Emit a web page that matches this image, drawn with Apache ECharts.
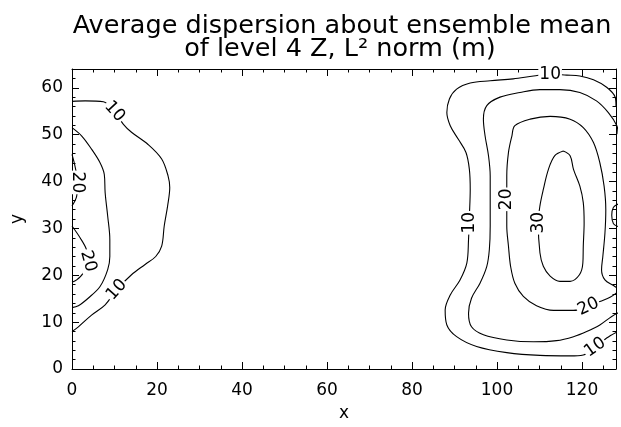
<!DOCTYPE html>
<html><head><meta charset="utf-8">
<script src="https://cdn.jsdelivr.net/npm/echarts@6/dist/echarts.min.js"></script>
<style>html,body{margin:0;padding:0;background:#fff}#c{width:621px;height:427px}</style>
</head><body><div id="c"></div>
<script>
// ---- data (data coordinates) ----
const xTickLabels = [0, 20, 40, 60, 80, 100, 120];
const yTickLabels = [0, 10, 20, 30, 40, 50, 60];
const xRange = [0, 128];
const yRange = [0, 64];

const contour10Left = [[0,57.1],[3.1,57.2],[7.4,57.0],[10.0,54.9],[12.1,52.2],[14.0,50.5],[17.9,47.9],[21.1,44.8],[22.6,41.2],[23.0,38.7],[22.5,34.8],[21.7,30.5],[21.1,26.2],[19.7,24.0],[17.2,22.3],[14.0,20.1],[10.5,16.9],[7.8,13.7],[4.6,11.5],[1.5,9.0],[0,8.0]];
const contour15Left = [[0,51.5],[2.3,49.7],[4.6,46.9],[6.6,44.0],[7.6,41.5],[7.8,37.6],[8.4,32.6],[8.9,27.6],[8.9,24.0],[8.4,21.2],[6.6,17.6],[3.8,15.1],[1.5,13.5],[0,13.1]];
const contour20LeftA = [[0,45.8],[0.7,43.3],[1.3,39.8],[1.1,36.9],[0,34.8]];
const contour20LeftB = [[0,30.5],[1.9,28.0],[3.4,25.5],[3.8,23.0],[2.7,20.5],[1.1,19.0],[0,18.5]];
const contour10Right = [[128,56],[127.8,58.0],[125.8,60.1],[122.7,61.7],[119.5,62.5],[116.4,62.7],[112.5,62.9],[108.6,62.5],[103.8,61.9],[98.4,61.5],[93.7,61.0],[90.5,59.7],[88.8,57.6],[88.2,54.7],[89.0,51.9],[90.9,49.0],[92.7,46.2],[93.5,42.6],[93.7,38.3],[93.5,32.6],[93.3,27.6],[92.9,22.6],[91.3,19.0],[89.0,15.8],[87.8,12.6],[88.2,9.4],[90.5,6.9],[95.2,4.8],[102.3,3.5],[110.1,2.9],[117.2,2.8],[120.3,3.0],[123.1,4.6],[125.8,6.6],[128,7.8]];
const contour15Right = [[128.5,50.1],[128.2,51.9],[126.2,54.7],[123.4,57.2],[119.5,59.0],[114.8,59.6],[110.1,59.6],[105.4,59.0],[100.7,58.0],[97.6,56.2],[96.8,53.3],[97.2,49.7],[98.0,45.5],[98.4,41.2],[98.4,36.2],[98.4,30.5],[98.2,25.5],[97.6,21.9],[96.0,18.3],[94.0,15.1],[93.3,11.9],[94.0,9.0],[96.8,7.3],[102.3,6.2],[108.6,5.8],[114.0,6.05],[118.0,6.9],[121.1,8.0],[124.2,9.4],[127.0,11.2],[129.2,12.3]];
const contour20Right = [[128.2,17.3],[127.4,17.8],[125.4,19.0],[124.6,21.2],[124.9,24.0],[125.4,29.0],[125.6,34.0],[125.2,39.0],[124.2,44.0],[122.7,48.3],[120.3,51.5],[117.2,53.3],[112.5,53.9],[107.8,53.3],[104.2,51.9],[103.5,49.7],[102.7,46.2],[102.3,41.2],[102.3,36.2],[102.3,30.5],[102.7,26.2],[103.2,21.9],[104.2,18.3],[106.2,15.5],[109.3,13.5],[113.3,12.5],[118.0,12.5],[121.5,13.3],[124.2,14.4],[126.6,15.3],[128.2,16.3]];
const contour30Right = [[115.6,46.5],[117.2,45.5],[118.0,42.6],[119.5,39.0],[120.3,35.5],[120.5,31.2],[120.3,26.2],[120.2,22.6],[119.4,20.1],[117.2,18.7],[114.8,18.7],[112.5,19.8],[110.9,21.9],[110.1,24.8],[109.7,31.2],[110.1,34.8],[110.9,38.3],[112.1,42.6],[113.6,45.5],[115.6,46.5]];
const contourEdge = [[128.5,35.2],[127.4,34.5],[127.0,32.8],[127.4,31.0],[128.5,30.4]];

// contour labels: [x, y, text]
const contourLabels = [[10.0,54.9,'10'],[10.5,16.9,'10'],[1.3,39.8,'20'],[3.8,23.0,'20'],[112.5,62.9,'10'],[93.5,31.2,'10'],[102.3,36.2,'20'],[109.7,31.2,'30'],[123.1,4.6,'10'],[121.5,13.3,'20']];
const labelRotations = [-48, 48, -90, -75, 0, 90, 90, 90, 35, 25];

// ---- chart ----
const FONT = 'DejaVu Sans';
const chart = echarts.init(document.getElementById('c'), null, {renderer: 'canvas'});
const contours = [contour10Left, contour15Left, contour20LeftA, contour20LeftB, contour10Right, contour15Right, contour20Right, contour30Right, contourEdge];
const lineSeries = contours.map(c => ({
  type: 'line', data: c, showSymbol: false, smooth: 0.35, clip: true,
  lineStyle: {color: '#000', width: 1.1}, silent: true, animation: false, z: 2
}));
const tickStyle = {color: '#000', width: 1};
function xAx(pos, labels) {
  return {
    type: 'value', position: pos, min: xRange[0], max: xRange[1], interval: 20,
    axisLine: {show: true, onZero: false, lineStyle: tickStyle},
    axisTick: {show: true, inside: true, length: 7, lineStyle: tickStyle},
    minorTick: {show: true, splitNumber: 4, length: 3.5, lineStyle: tickStyle},
    splitLine: {show: false}, minorSplitLine: {show: false},
    axisLabel: {show: labels, margin: 13, color: '#000', fontSize: 17, fontFamily: FONT,
      formatter: v => xTickLabels.includes(v) ? String(v) : ''},
    name: labels ? 'x' : '', nameLocation: 'middle', nameGap: 36,
    nameTextStyle: {color: '#000', fontSize: 17, fontFamily: FONT}
  };
}
function yAx(pos, labels) {
  return {
    type: 'value', position: pos, min: yRange[0], max: yRange[1], interval: 10,
    axisLine: {show: true, onZero: false, lineStyle: tickStyle},
    axisTick: {show: true, inside: true, length: 7, lineStyle: tickStyle},
    minorTick: {show: true, splitNumber: 5, length: 3.5, lineStyle: tickStyle},
    splitLine: {show: false}, minorSplitLine: {show: false},
    axisLabel: {show: labels, margin: 9, color: '#000', fontSize: 17, fontFamily: FONT,
      formatter: v => yTickLabels.includes(v) ? String(v) : ''},
    name: labels ? 'y' : '', nameLocation: 'middle', nameGap: 46, nameRotate: 90,
    nameTextStyle: {color: '#000', fontSize: 17, fontFamily: FONT}
  };
}
const option = {
  animation: false,
  backgroundColor: '#fff',
  title: [
    {text: 'Average dispersion about ensemble mean', left: 337, top: 8, textAlign: 'center',
     textStyle: {fontSize: 25.5, fontWeight: 'normal', fontFamily: FONT, color: '#000'}},
    {text: 'of level 4 Z, L\u00B2 norm (m)', left: 335, top: 31, textAlign: 'center',
     textStyle: {fontSize: 25.5, fontWeight: 'normal', fontFamily: FONT, color: '#000'}}
  ],
  grid: {left: 72, right: 5, top: 69, bottom: 58, containLabel: false, outerBoundsMode: 'none'},
  xAxis: [xAx('bottom', true), xAx('top', false)],
  yAxis: [yAx('left', true), yAx('right', false)],
  series: lineSeries.concat([{
    type: 'scatter', symbolSize: 0, silent: true, z: 5, clip: false,
    itemStyle: {opacity: 1},
    data: contourLabels.map((d, i) => ({value: d, label: {rotate: labelRotations[i]}})),
    label: {show: true, position: 'inside', formatter: p => p.value[2], opacity: 1,
      color: '#000', fontSize: 17, fontFamily: FONT, backgroundColor: '#fff', padding: [0, 1]}
  }])
};
chart.setOption(option);
</script></body></html>
